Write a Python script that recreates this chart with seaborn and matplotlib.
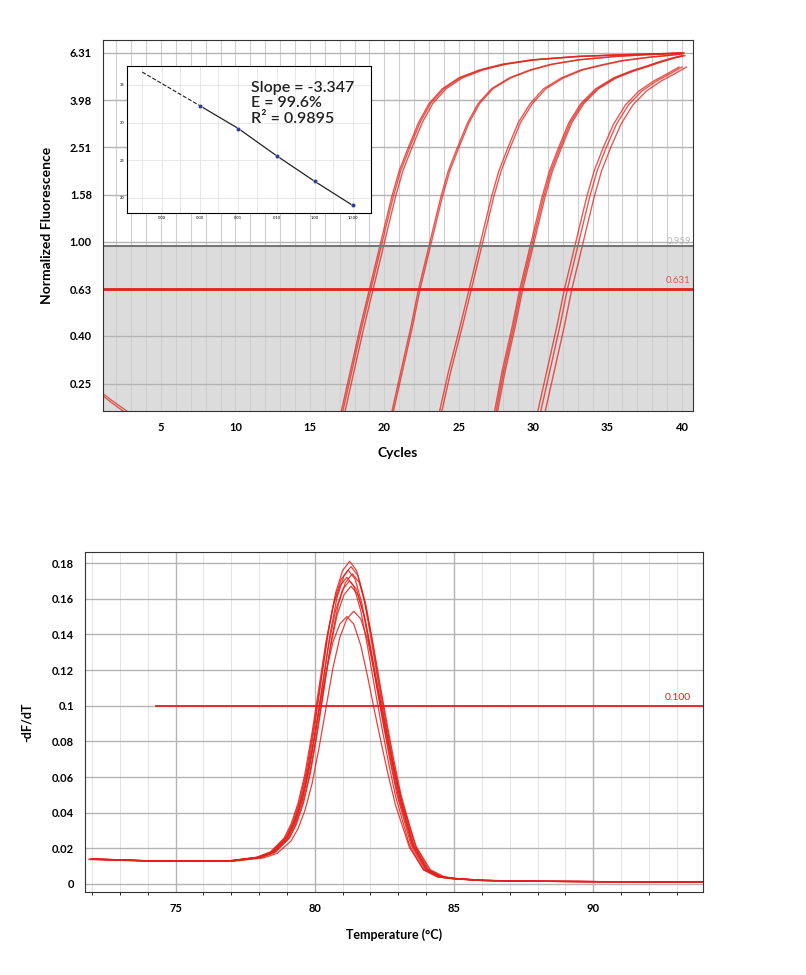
import numpy as np
import pandas as pd
import seaborn as sns
import matplotlib.pyplot as plt
from matplotlib.ticker import FixedLocator, NullLocator, MultipleLocator

plt.rcParams['font.family'] = 'Lato'

# amplification curves, one point list per dilution, replicate shifts per dilution
amp_cycles = [
    [17.2, 17.8, 18.5, 19.1, 19.6, 20.1, 20.6, 21.1, 21.7, 22.4, 23.1, 24.0, 25.1, 26.5, 28.0, 30.0, 33.0, 36.0, 40.0],
    [20.5, 21.1, 21.8, 22.3, 22.8, 23.3, 23.8, 24.3, 24.9, 25.6, 26.3, 27.2, 28.4, 29.8, 31.2, 33.0, 35.5, 37.5, 40.0],
    [23.8, 24.4, 25.2, 25.8, 26.3, 26.8, 27.3, 27.8, 28.4, 29.1, 29.9, 30.8, 32.0, 33.3, 34.6, 36.0, 37.8, 39.0, 40.0],
    [27.4, 27.9, 28.6, 29.1, 29.6, 30.1, 30.6, 31.1, 31.7, 32.4, 33.2, 34.2, 35.4, 36.6, 37.6, 38.5, 39.3, 40.0],
    [30.5, 31.1, 31.8, 32.3, 32.8, 33.3, 33.8, 34.3, 34.9, 35.6, 36.4, 37.3, 38.3, 39.2, 40.0],
]
amp_values = [
    [0.19, 0.28, 0.44, 0.63, 0.85, 1.15, 1.55, 2.0, 2.5, 3.2, 3.85, 4.45, 4.95, 5.35, 5.65, 5.9, 6.1, 6.2, 6.3],
    [0.19, 0.28, 0.44, 0.63, 0.85, 1.15, 1.55, 2.0, 2.5, 3.2, 3.85, 4.45, 4.95, 5.35, 5.65, 5.9, 6.1, 6.2, 6.3],
    [0.19, 0.28, 0.44, 0.63, 0.85, 1.15, 1.55, 2.0, 2.5, 3.2, 3.85, 4.45, 4.95, 5.35, 5.6, 5.85, 6.05, 6.15, 6.25],
    [0.19, 0.28, 0.44, 0.63, 0.85, 1.15, 1.55, 2.0, 2.5, 3.2, 3.85, 4.45, 4.95, 5.3, 5.55, 5.8, 6.0, 6.15],
    [0.19, 0.28, 0.44, 0.63, 0.85, 1.15, 1.55, 2.0, 2.5, 3.15, 3.8, 4.35, 4.8, 5.15, 5.5],
]
rep_shifts = [[-0.1, 0.0, 0.15], [0.0, 0.1], [-0.1, 0.05], [0.0, 0.1, 0.2], [-0.2, 0.0, 0.3]]
early_cycles = [1.0, 1.6, 2.3, 2.8]
early_values = [0.23, 0.215, 0.2, 0.19]
threshold_hi = 0.959
threshold_lo = 0.631

# standard curve inset
std_qty = [0.001, 0.01, 0.1, 1, 10]
std_ct = [32.2, 29.2, 25.6, 22.2, 19.0]
extra_qty = [0.00003, 0.001]
extra_ct = [36.7, 32.2]

# melt curves
melt_temp = [72, 74, 76, 77, 78, 78.5, 79, 79.25, 79.5, 79.75, 80, 80.25, 80.5, 80.75, 81, 81.25,
             81.5, 81.75, 82, 82.25, 82.5, 82.75, 83, 83.5, 84, 84.5, 85, 86, 88, 94]
melt_base = [0.014, 0.013, 0.013, 0.013, 0.015, 0.018, 0.026, 0.034, 0.046, 0.063, 0.086, 0.112,
             0.138, 0.158, 0.170, 0.175, 0.170, 0.156, 0.135, 0.112, 0.090, 0.069, 0.050, 0.022,
             0.008, 0.004, 0.003, 0.002, 0.0015, 0.001]
peak_heights = [0.181, 0.178, 0.176, 0.174, 0.172, 0.170, 0.167, 0.153, 0.150]
melt_shift = [0.0, 0.05, -0.05, 0.1, -0.1, 0.0, 0.05, 0.15, -0.1]
melt_threshold = 0.1

red = '#e32119'
fig = plt.figure(figsize=(8.06, 9.75), dpi=100)

# ---- top: amplification plot
ax = fig.add_axes([103/806, 1-411/975, 590/806, 371/975])
ax.set_yscale('log')
ax.set_xlim(1.1, 40.74)
ax.set_ylim(0.192, 7.16)
ax.axhspan(0.1, threshold_hi, xmin=0, xmax=1, color='#dcdcdc', zorder=0)
for x in range(2, 41):
    ax.axvline(x, color='#cfcfcf', lw=0.8, zorder=0.5)
yt = [0.25, 0.40, 0.63, 1.00, 1.58, 2.51, 3.98, 6.31]
for y in yt:
    ax.axhline(y, color='#b4b4b4', lw=1, zorder=0.5)
for cyc, val, shifts in zip(amp_cycles, amp_values, rep_shifts):
    for s in shifts:
        d = pd.DataFrame({'c': np.array(cyc) + s, 'v': val})
        sns.lineplot(data=d, x='c', y='v', ax=ax, color=red, lw=1.0, alpha=0.75, sort=False)
for s in [0, 0.25]:
    sns.lineplot(x=np.array(early_cycles), y=np.array(early_values) - s * 0.02, ax=ax,
                 color=red, lw=1, alpha=0.7)
ax.axhline(threshold_hi, color='#777777', lw=1.5)
ax.axhline(threshold_lo, color=red, lw=2)
ax.text(40.6, threshold_hi, '0.959', color='#bbbbbb', fontsize=7, ha='right', va='bottom')
ax.text(40.6, threshold_lo * 1.04, '0.631', color=red, fontsize=7, ha='right', va='bottom', alpha=0.7)
ax.yaxis.set_major_locator(FixedLocator(yt))
ax.yaxis.set_minor_locator(NullLocator())
ax.set_yticklabels([f'{y:.2f}' for y in yt])
ax.set_xticks([5, 10, 15, 20, 25, 30, 35, 40])
ax.tick_params(labelsize=8, length=0, pad=8)
for lab in ax.get_xticklabels() + ax.get_yticklabels():
    lab.set_fontweight('bold')
ax.set_xlabel('Cycles', fontsize=10, fontweight='bold', labelpad=10)
ax.set_ylabel('Normalized Fluorescence', fontsize=10, fontweight='bold', labelpad=12)
for sp in ax.spines.values():
    sp.set_color('#333333')

# inset
ins = fig.add_axes([127/806, 1-213/975, 244/806, 147/975])
ins.set_xscale('log')
ins.set_xlim(0.000012, 30)
ins.set_ylim(18, 37.5)
ins.xaxis.set_minor_locator(NullLocator())
ins.set_xticks([0.00003, 0.0001, 0.0003, 0.001, 0.003, 0.01, 0.03, 0.1, 0.3, 1, 3, 10], minor=True)
ins.grid(True, which='both', color='#e4e4e4', lw=0.6)
sns.lineplot(x=extra_qty, y=extra_ct, ax=ins, color='#222222', lw=0.8, linestyle='--')
sns.lineplot(x=std_qty, y=std_ct, ax=ins, color='#222222', lw=0.9)
sns.scatterplot(x=std_qty, y=std_ct, ax=ins, color='#2a3f9a', s=10, zorder=3)
ins.set_xticks([0.0001, 0.001, 0.01, 0.1, 1, 10])
ins.set_xticklabels(['0.00', '0.00', '0.01', '0.10', '1.00', '10.00'])
ins.set_yticks([20, 25, 30, 35])
ins.tick_params(which='both', labelsize=3, length=0, pad=2)
ins.text(0.51, 0.9, 'Slope = -3.347\nE = 99.6%\nR² = 0.9895', transform=ins.transAxes,
         fontsize=11.5, fontweight='semibold', va='top', linespacing=1.15, color='#222222')
ins.set_facecolor('white')

# ---- bottom: melt curve
bx = fig.add_axes([85/806, 1-892/975, 618/806, 340/975])
bx.set_xlim(71.75, 93.94)
bx.set_ylim(-0.0045, 0.1862)
bx.xaxis.set_minor_locator(MultipleLocator(1))
bx.grid(True, which='minor', axis='x', color='#e4e4e4', lw=0.7)
bx.grid(True, which='major', color='#b4b4b4', lw=1)
bx.set_axisbelow(True)
base = np.array(melt_base)
for h, s in zip(peak_heights, melt_shift):
    v = 0.012 + (base - 0.012) * (h - 0.012) / (0.175 - 0.012)
    v = np.where(base < 0.012, base, v)
    sns.lineplot(x=np.array(melt_temp) + s, y=v, ax=bx, color=red, lw=0.9, alpha=0.85)
bx.plot([74.3, 93.94], [melt_threshold] * 2, color=red, lw=1.3)
bx.text(93.5, 0.102, '0.100', color=red, fontsize=7.5, ha='right', va='bottom')
bx.set_xticks([75, 80, 85, 90])
bt = [0, 0.02, 0.04, 0.06, 0.08, 0.1, 0.12, 0.14, 0.16, 0.18]
bx.set_yticks(bt)
bx.set_yticklabels(['0', '0.02', '0.04', '0.06', '0.08', '0.1', '0.12', '0.14', '0.16', '0.18'])
bx.tick_params(labelsize=8, length=0, pad=8)
for lab in bx.get_xticklabels() + bx.get_yticklabels():
    lab.set_fontweight('bold')
bx.set_xlabel('Temperature (°C)', fontsize=9, fontweight='bold', labelpad=10)
bx.set_ylabel('-dF/dT', fontsize=9, fontweight='bold', labelpad=14)
for sp in bx.spines.values():
    sp.set_color('#333333')

fig.savefig('out.png', dpi=100)
